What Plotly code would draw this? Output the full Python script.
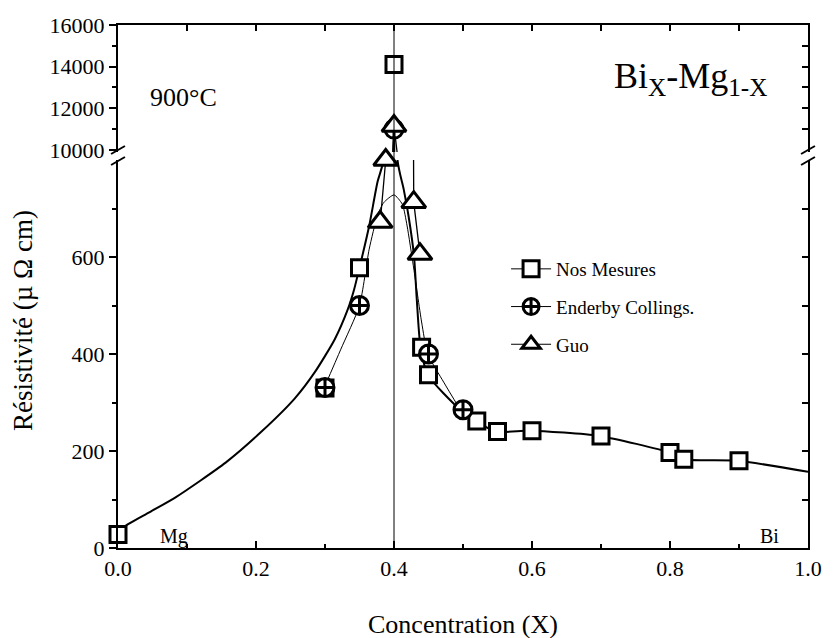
import plotly.graph_objects as go

# ---------------- data ----------------
# Nos Mesures (squares)
nos_x = [0.0, 0.30, 0.35, 0.40, 0.44, 0.45, 0.52, 0.55, 0.60, 0.70, 0.80, 0.82, 0.90]
nos_y = [28, 330, 578, 14100, 414, 357, 262, 240, 242, 231, 197, 183, 180]
# Enderby Collings (crossed circles)
ec_x = [0.30, 0.35, 0.40, 0.45, 0.50]
ec_y = [331, 500, 11000, 400, 285]
# Guo (triangles)
guo_x = [0.38, 0.388, 0.40, 0.4286, 0.4376]
guo_y = [672, 800, 11150, 713, 606]

# thick fitted curve through "Nos Mesures"
nos_fit_x = [0.0, 0.008, 0.046, 0.084, 0.156, 0.208, 0.256, 0.285, 0.314, 0.333, 0.342,
             0.350, 0.364, 0.376, 0.386, 0.400, 0.405, 0.414, 0.421, 0.429, 0.433,
             0.438, 0.449, 0.496, 0.518, 0.548, 0.598, 0.697, 0.799, 0.818, 0.898, 1.0]
nos_fit_y = [28, 43, 74, 105, 176, 240, 308, 362, 430, 492, 532,
             578, 664, 754, 808, 10800, 801, 740, 685, 602, 513,
             420, 357, 285, 262, 240, 242, 231, 197, 183, 180, 157]
# thin fitted curve through "Enderby Collings"
ec_fit_x = [0.299, 0.323, 0.350, 0.364, 0.376, 0.385, 0.400, 0.412, 0.419, 0.428,
            0.440, 0.449, 0.472, 0.496]
ec_fit_y = [331, 410, 500, 616, 685, 712, 728, 709, 664, 582, 466, 400, 342, 285]

x_ticks = [0.0, 0.2, 0.4, 0.6, 0.8, 1.0]
y_low_ticks = [0, 200, 400, 600]
y_low_minor = [100, 300, 500, 700]
y_up_ticks = [10000, 12000, 14000, 16000]
y_up_minor = [11000, 13000, 15000]
y_low_right = [100, 200, 300, 400, 500, 600, 700]
y_up_right = [11000, 12000, 13000, 14000, 15000]

LOW_RANGE = [0, 800]
UP_RANGE = [9900, 16000]
SPLIT = 5000

FONT = "Liberation Serif"

# ---------------- geometry helpers ----------------
W, H = 834, 638
L, R, T, B = 118, 19, 25, 90
PW, PH = W - L - R, H - T - B


def px(xp):
    return (xp - L) / PW


def py(yp):
    return (H - B - yp) / PH


low_dom = [0, py(160)]
up_dom = [py(152), 1]


def part(xs, ys, upper):
    pts = [(a, b) for a, b in zip(xs, ys) if (b >= SPLIT) == upper]
    return [p[0] for p in pts], [p[1] for p in pts]


fig = go.Figure()

sq = dict(symbol="square", size=16, color="white", line=dict(color="black", width=3))
ci = dict(symbol="circle-cross", size=18, color="white", line=dict(color="black", width=3))
tr = dict(symbol="triangle-up", size=21, color="white", line=dict(color="black", width=3))

# lines (drawn in both panels of the broken axis)
for xa, ya in (("x", "y"), ("x2", "y2")):
    fig.add_trace(go.Scatter(x=nos_fit_x, y=nos_fit_y, mode="lines", xaxis=xa, yaxis=ya,
                             line=dict(color="black", width=2, shape="spline", smoothing=0.6),
                             showlegend=False, hoverinfo="skip"))
    fig.add_trace(go.Scatter(x=ec_fit_x, y=ec_fit_y, mode="lines", xaxis=xa, yaxis=ya,
                             line=dict(color="black", width=1, shape="spline", smoothing=0.6),
                             showlegend=False, hoverinfo="skip"))
    fig.add_trace(go.Scatter(x=guo_x, y=guo_y, mode="lines", xaxis=xa, yaxis=ya,
                             line=dict(color="black", width=1.3), showlegend=False, hoverinfo="skip"))

# markers
for xs, ys, mk, nm in ((nos_x, nos_y, sq, "Nos Mesures"),
                       (ec_x, ec_y, ci, "Enderby Collings."),
                       (guo_x, guo_y, tr, "Guo")):
    for upper, xa, ya in ((False, "x", "y"), (True, "x2", "y2")):
        px_, py_ = part(xs, ys, upper)
        if px_:
            fig.add_trace(go.Scatter(x=px_, y=py_, mode="markers", xaxis=xa, yaxis=ya,
                                     marker=mk, name=nm, showlegend=False, cliponaxis=False))

# legend entries
for mk, nm, g in ((sq, "Nos Mesures", "a"), (ci, "Enderby Collings.", "b"), (tr, "Guo", "c")):
    fig.add_trace(go.Scatter(x=[None], y=[None], mode="lines+markers", marker=mk,
                             line=dict(color="black", width=1), name=nm, legendgroup=g,
                             xaxis="x", yaxis="y"))

# dummy traces so the right-hand axes are drawn
fig.add_trace(go.Scatter(x=[None], y=[None], xaxis="x", yaxis="y3", showlegend=False, hoverinfo="skip"))
fig.add_trace(go.Scatter(x=[None], y=[None], xaxis="x2", yaxis="y4", showlegend=False, hoverinfo="skip"))

axcommon = dict(showgrid=False, zeroline=False, showline=True, linecolor="black", linewidth=2,
                tickcolor="black", tickwidth=1.5)

fig.update_layout(
    width=W, height=H,
    margin=dict(l=L, r=R, t=T, b=B),
    paper_bgcolor="white", plot_bgcolor="white",
    font=dict(family=FONT, color="black", size=22),
    xaxis=dict(**axcommon, domain=[0, 1], range=[0, 1], anchor="y", side="bottom",
               tickvals=x_ticks, tickformat=".1f", ticks="inside", ticklen=7,
               minor=dict(dtick=0.1, tick0=0, ticks="inside", ticklen=4, tickcolor="black"),
               tickfont=dict(size=22, family=FONT)),
    xaxis2=dict(**axcommon, domain=[0, 1], range=[0, 1], anchor="y2", side="top", matches="x",
                dtick=0.1, tick0=0, ticks="inside", ticklen=6, showticklabels=False),
    yaxis=dict(**axcommon, domain=low_dom, range=LOW_RANGE, anchor="x",
               tickvals=y_low_ticks, tickformat="d", ticks="outside", ticklen=7,
               minor=dict(tickvals=y_low_minor, ticks="outside", ticklen=4, tickcolor="black"),
               tickfont=dict(size=22, family=FONT)),
    yaxis2=dict(**axcommon, domain=up_dom, range=UP_RANGE, anchor="x2",
                tickvals=y_up_ticks, tickformat="d", ticks="outside", ticklen=7,
                minor=dict(tickvals=y_up_minor, ticks="outside", ticklen=4, tickcolor="black"),
                tickfont=dict(size=22, family=FONT)),
    yaxis3=dict(**axcommon, range=LOW_RANGE, overlaying="y", side="right", anchor="x",
                tickvals=y_low_right, ticks="inside", ticklen=6, showticklabels=False),
    yaxis4=dict(**axcommon, range=UP_RANGE, overlaying="y2", side="right", anchor="x2",
                tickvals=y_up_right, ticks="inside", ticklen=6, showticklabels=False),
    legend=dict(x=px(510), y=py(250), xanchor="left", yanchor="top",
                font=dict(family=FONT, size=19), bgcolor="rgba(0,0,0,0)",
                traceorder="grouped", tracegroupgap=10, itemwidth=40),
    showlegend=True,
)

# vertical reference line at x = 0.4
fig.add_shape(type="line", xref="x", yref="paper", x0=0.4, x1=0.4, y0=0, y1=1,
              line=dict(color="black", width=1))

# axis-break marks
for xc in (L, W - R):
    for yc in (150, 161):
        fig.add_shape(type="line", xref="paper", yref="paper",
                      x0=px(xc - 7), y0=py(yc + 4), x1=px(xc + 7), y1=py(yc - 4),
                      line=dict(color="black", width=2))

# texts
fig.add_annotation(text="900°C", xref="paper", yref="paper", x=px(148), y=py(97),
                   xanchor="left", yanchor="middle", showarrow=False,
                   font=dict(family=FONT, size=26))
fig.add_annotation(text="Bi<sub>X</sub>-Mg<sub>1-X</sub>", xref="paper", yref="paper",
                   x=px(776), y=py(78), xanchor="right", yanchor="middle", showarrow=False,
                   font=dict(family=FONT, size=36))
fig.add_annotation(text="Mg", xref="paper", yref="paper", x=px(158), y=py(536),
                   xanchor="left", yanchor="middle", showarrow=False,
                   font=dict(family=FONT, size=20))
fig.add_annotation(text="Bi", xref="paper", yref="paper", x=px(764), y=py(536),
                   xanchor="left", yanchor="middle", showarrow=False,
                   font=dict(family=FONT, size=20))
fig.add_annotation(text="Concentration (X)", xref="paper", yref="paper", x=0.5, y=py(624),
                   xanchor="center", yanchor="middle", showarrow=False,
                   font=dict(family=FONT, size=26))
fig.add_annotation(text="Résistivité (µ Ω cm)", xref="paper", yref="paper", x=px(22), y=py(320),
                   xanchor="center", yanchor="middle", showarrow=False, textangle=-90,
                   font=dict(family=FONT, size=27))

fig.write_html("out.html", config={"displayModeBar": False},
               post_script="document.body.style.margin='0px';")
